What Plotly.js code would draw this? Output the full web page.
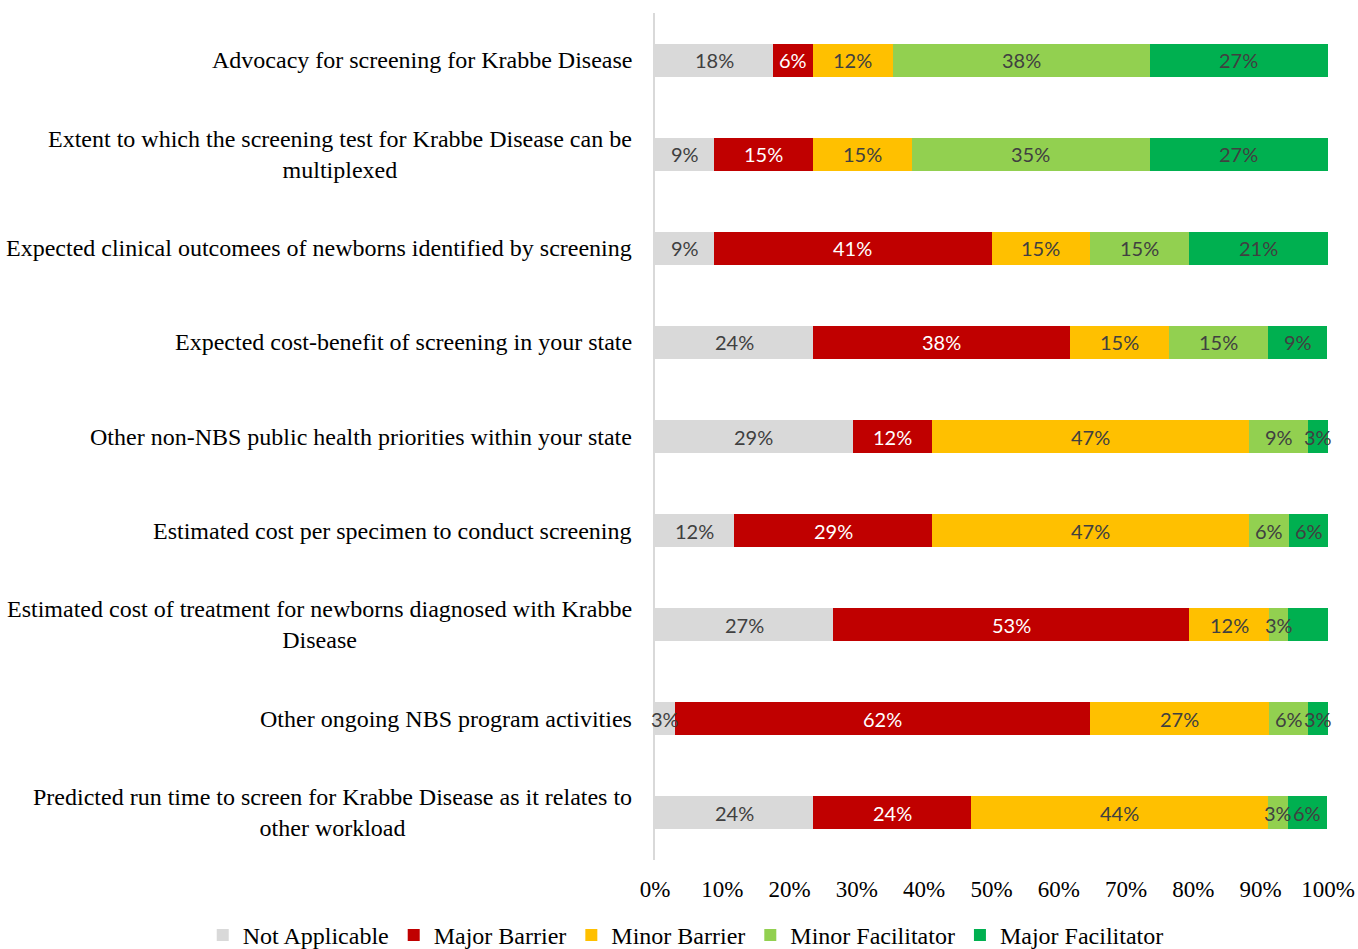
<!DOCTYPE html>
<html>
<head>
<meta charset="utf-8">
<script src="https://cdn.plot.ly/plotly-3.0.1.min.js"></script>
<style>html,body{margin:0;padding:0;background:#fff;}#chart{width:1358px;height:949px;}</style>
</head>
<body>
<div id="chart"></div>
<script>
const categories = [
  "Advocacy for screening for Krabbe Disease",
  "Extent to which the screening test for Krabbe Disease can be<br>multiplexed",
  "Expected clinical outcomees of newborns identified by screening",
  "Expected cost-benefit of screening in your state",
  "Other non-NBS public health priorities within your state",
  "Estimated cost per specimen to conduct screening",
  "Estimated cost of treatment for newborns diagnosed with Krabbe<br>Disease",
  "Other ongoing NBS program activities",
  "Predicted run time to screen for Krabbe Disease as it relates to<br>other workload"
];
const seriesNames = ["Not Applicable", "Major Barrier", "Minor Barrier", "Minor Facilitator", "Major Facilitator"];
const notApplicable    = [17.6, 8.8, 8.8, 23.5, 29.4, 11.8, 26.5, 2.9, 23.5];
const majorBarrier     = [5.9, 14.7, 41.2, 38.2, 11.8, 29.4, 52.9, 61.8, 23.5];
const minorBarrier     = [11.8, 14.7, 14.7, 14.7, 47.1, 47.1, 11.8, 26.5, 44.1];
const minorFacilitator = [38.2, 35.3, 14.7, 14.7, 8.8, 5.9, 2.9, 5.9, 2.9];
const majorFacilitator = [26.5, 26.5, 20.6, 8.8, 2.9, 5.9, 5.9, 2.9, 5.9];
const labelsNA   = ["18%", "9%", "9%", "24%", "29%", "12%", "27%", "3%", "24%"];
const labelsMajB = ["6%", "15%", "41%", "38%", "12%", "29%", "53%", "62%", "24%"];
const labelsMinB = ["12%", "15%", "15%", "15%", "47%", "47%", "12%", "27%", "44%"];
const labelsMinF = ["38%", "35%", "15%", "15%", "9%", "6%", "3%", "6%", "3%"];
const labelsMajF = ["27%", "27%", "21%", "9%", "3%", "6%", "", "3%", "6%"];
const xTicks = [0,10,20,30,40,50,60,70,80,90,100];
const xTickLabels = ["0%","10%","20%","30%","40%","50%","60%","70%","80%","90%","100%"];

const values = [notApplicable, majorBarrier, minorBarrier, minorFacilitator, majorFacilitator];
const labels = [labelsNA, labelsMajB, labelsMinB, labelsMinF, labelsMajF];
const colors = ["#D9D9D9", "#C00000", "#FFC000", "#92D050", "#00B050"];
const textColors = ["#404040", "#FFFFFF", "#404040", "#404040", "#404040"];

const barTraces = seriesNames.map((name, i) => ({
  type: "bar",
  orientation: "h",
  name: name,
  y: categories,
  x: values[i],
  marker: {color: colors[i], line: {width: 0}},
  hoverinfo: "skip"
}));

// data labels: centred on each stacked segment, positions derived from the data arrays
const annotations = [];
const starts = categories.map(() => 0);
values.forEach((vals, i) => {
  vals.forEach((v, j) => {
    const mid = starts[j] + v / 2;
    starts[j] += v;
    if (!labels[i][j]) return;
    annotations.push({
      xref: "x", yref: "y", x: mid, y: categories[j],
      xanchor: "center", yanchor: "middle",
      text: labels[i][j], showarrow: false,
      font: {family: "Lato, 'Open Sans', sans-serif", size: 20, color: textColors[i]}
    });
  });
});

categories.forEach(c => annotations.push({
  xref: "paper", yref: "y",
  x: 0, y: c,
  xanchor: "right", yanchor: "middle",
  xshift: -21,
  align: "center",
  text: c,
  showarrow: false,
  font: {family: "'Liberation Serif', 'Times New Roman', serif", size: 24, color: "#000"}
}));

const layout = {
  width: 1358, height: 949,
  margin: {l: 655, r: 30, t: 13, b: 89, autoexpand: false},
  paper_bgcolor: "#fff", plot_bgcolor: "#fff",
  barmode: "stack",
  bargap: 0.65,
  showlegend: true,
  legend: {
    orientation: "h", traceorder: "normal",
    x: -0.672, xanchor: "left",
    y: -0.089, yanchor: "middle",
    font: {family: "'Liberation Serif', 'Times New Roman', serif", size: 24, color: "#000"},
    itemclick: false
  },
  xaxis: {
    range: [0, 100],
    tickvals: xTicks, ticktext: xTickLabels,
    showgrid: false, zeroline: false, showline: false,
    ticks: "", ticklabelstandoff: 13,
    tickfont: {family: "'Liberation Serif', 'Times New Roman', serif", size: 23, color: "#000"},
    fixedrange: true
  },
  yaxis: {
    autorange: "reversed",
    showticklabels: false,
    showgrid: false, zeroline: false,
    showline: true, linecolor: "#D9D9D9", linewidth: 2,
    ticks: "",
    fixedrange: true
  },
  annotations: annotations
};

Plotly.newPlot("chart", barTraces, layout, {displayModeBar: false, staticPlot: true});
</script>
</body>
</html>
